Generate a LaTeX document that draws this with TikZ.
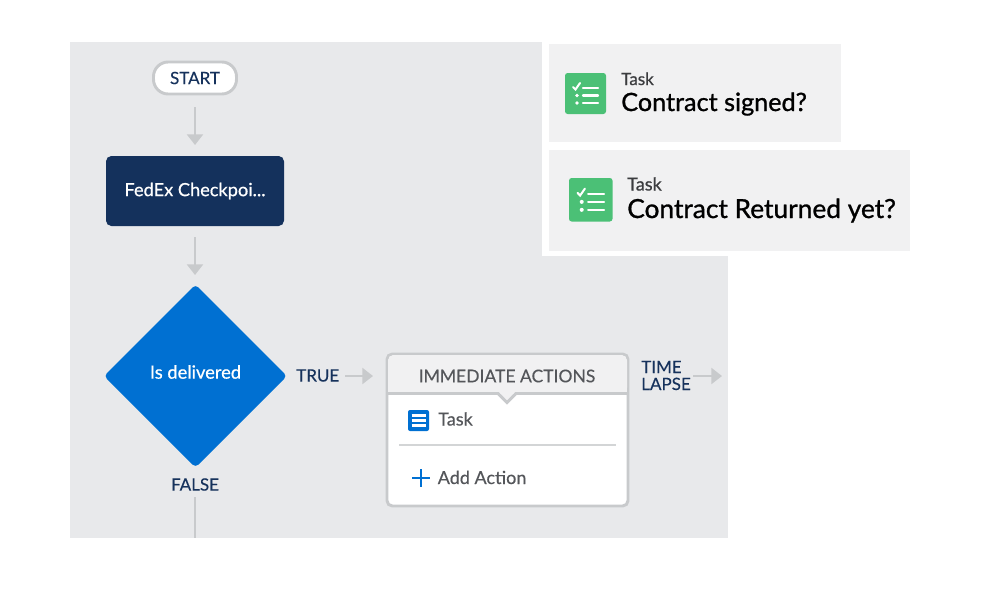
\documentclass[tikz,border=0pt]{standalone}
\usepackage{fontspec}
\setmainfont{Lato}
\newfontfamily\medfont[FakeBold=1.0]{Lato}
\newfontfamily\whitefont[FakeBold=0.6]{Lato}
\newfontfamily\semifont[FakeBold=0.25]{Lato}
\usetikzlibrary{arrows.meta,calc}
\definecolor{panel}{HTML}{E8E9EB}
\definecolor{cardbg}{HTML}{F1F1F2}
\definecolor{edge}{HTML}{C8CACC}
\definecolor{navy}{HTML}{14315C}
\definecolor{labelblue}{HTML}{16325C}
\definecolor{sfblue}{HTML}{0070D2}
\definecolor{taskgreen}{HTML}{4BC076}
\definecolor{inktext}{HTML}{54565A}
\newcommand{\fs}[1]{\fontsize{\dimexpr#1pt*3/4\relax}{\dimexpr#1pt*3/4\relax}\selectfont}
\tikzset{
  flow/.style={draw=edge,line width=1.6pt,-{Triangle[length=8pt,width=12pt]}},
  plainline/.style={draw=edge,line width=1.6pt},
  lbl/.style={inner sep=0pt,text=labelblue,font=\fs{17}\semifont},
  txt/.style={inner sep=0pt,anchor=base west},
  icoline/.style={draw=white,line width=#1,line cap=round},
}
\newcommand{\taskicon}[3]{% x y size
  \begin{scope}[shift={(#1,#2)},scale=#3/41]
    \fill[taskgreen,rounded corners=2pt] (0,0) rectangle (41,41);
    \draw[icoline=1.7pt] (18,15) -- (33,15);
    \draw[icoline=1.7pt] (18,22.5) -- (33,22.5);
    \draw[icoline=1.7pt] (18,30) -- (33,30);
    \draw[icoline=1.5pt] (8,14) -- (10.5,16.5) -- (15,10);
    \fill[white] (12,22.5) circle (1.9);
    \fill[white] (12,30) circle (1.9);
  \end{scope}}
\begin{document}
\begin{tikzpicture}[x=0.75pt,y=-0.75pt]
\useasboundingbox (0,0) rectangle (1000,600);
\fill[white] (0,0) rectangle (1000,600);
\fill[panel] (70,42) rectangle (728,538);
\fill[white] (542,30) rectangle (1000,256);
% cards
\fill[cardbg] (549,44) rectangle (841,142);
\fill[cardbg] (549,150) rectangle (910,251);
\taskicon{565}{73}{41}
\taskicon{569}{178}{43.5}
\node[txt,font=\fs{17}\whitefont,text=inktext!70!black] (t1) at (621,85) {Task};
\node[txt,font=\fs{25.2}\medfont,text=black] (c1) at (621,111) {Contract signed?};
\node[txt,font=\fs{18}\whitefont,text=inktext!70!black] (t2) at (627,190.5) {Task};
\node[txt,font=\fs{26.3}\medfont,text=black] (c2) at (627,218) {Contract Returned yet?};
% flow nodes
\node[draw=edge,line width=2.2pt,fill=white,rounded corners=11pt,minimum width=62.25pt,minimum height=24pt,inner sep=0pt,text=labelblue,font=\fs{17}\semifont] (start) at (195,78) {START};
\node[fill=navy,rounded corners=4pt,minimum width=133.5pt,minimum height=52.5pt,inner sep=0pt,text=white,font=\fs{18.2}\whitefont] (fedex) at (195,191) {FedEx Checkpoi...};
\fill[sfblue,rounded corners=3pt] (195.5,284.5) -- (287,376) -- (195.5,467.5) -- (104,376) -- cycle;
\node[inner sep=0pt,text=white,font=\fs{18.3}\whitefont] (dec) at (195.5,372) {Is delivered};
\coordinate (panelend) at (195,538);
\node[lbl] (false) at (195,484.5) {FALSE};
\node[lbl,anchor=west] (true) at (296,375.5) {TRUE};
% action box
\draw[edge,line width=2.2pt,fill=white,rounded corners=4pt] (387,354) rectangle (628,506);
\path[fill=cardbg,rounded corners=4pt] (388,355) -- (627,355) -- (627,393) -- (388,393) -- cycle;
\fill[cardbg] (388,380) rectangle (627,393);
\draw[edge,line width=2.2pt,fill=cardbg] (388,393.5) -- (498,393.5) -- (507,402.5) -- (516,393.5) -- (627,393.5);
\fill[cardbg] (388,392) -- (627,392) -- (627,380) -- (388,380) -- cycle;
\fill[cardbg] (500,392) -- (514,392) -- (507,400) -- cycle;
\node[inner sep=0pt,text=inktext,font=\fs{17.5}\semifont] (head) at (507,376) {IMMEDIATE ACTIONS};
\fill[sfblue,rounded corners=1.5pt] (408,410) rectangle (429,431);
\foreach \yy in {415.5,420.5,425.5} \draw[white,line width=1.6pt] (411.5,\yy) -- (425.5,\yy);
\node[txt,text=inktext,font=\fs{18}\semifont] (task) at (438,425.5) {Task};
\draw[draw=edge!80!white,line width=1pt] (399,445) -- (616,445);
\draw[sfblue,line width=1.8pt] (412,478) -- (430,478) (421,469) -- (421,487);
\node[txt,text=inktext,font=\fs{18}\semifont] (add) at (437.5,484) {Add Action};
\node[lbl,anchor=base west] (time) at (641,373) {TIME};
\node[lbl,anchor=base west] (lapse) at (641,390) {LAPSE};
\coordinate (a1s) at (195,107); \coordinate (a1e) at (195,145);
\coordinate (a2s) at (195,237); \coordinate (a2e) at (195,275);
\draw[flow] (a1s) -- (a1e);
\draw[flow] (a2s) -- (a2e);
\coordinate (a3s) at (345,376); \coordinate (a3e) at (373,376);
\draw[flow] (a3s) -- (a3e);
\coordinate (a4s) at (693,376); \coordinate (a4e) at (722,376);
\draw[flow] (a4s) -- (a4e);
\coordinate (fs) at (195,497);
\draw[plainline] (fs) -- (panelend);
\end{tikzpicture}
\end{document}
